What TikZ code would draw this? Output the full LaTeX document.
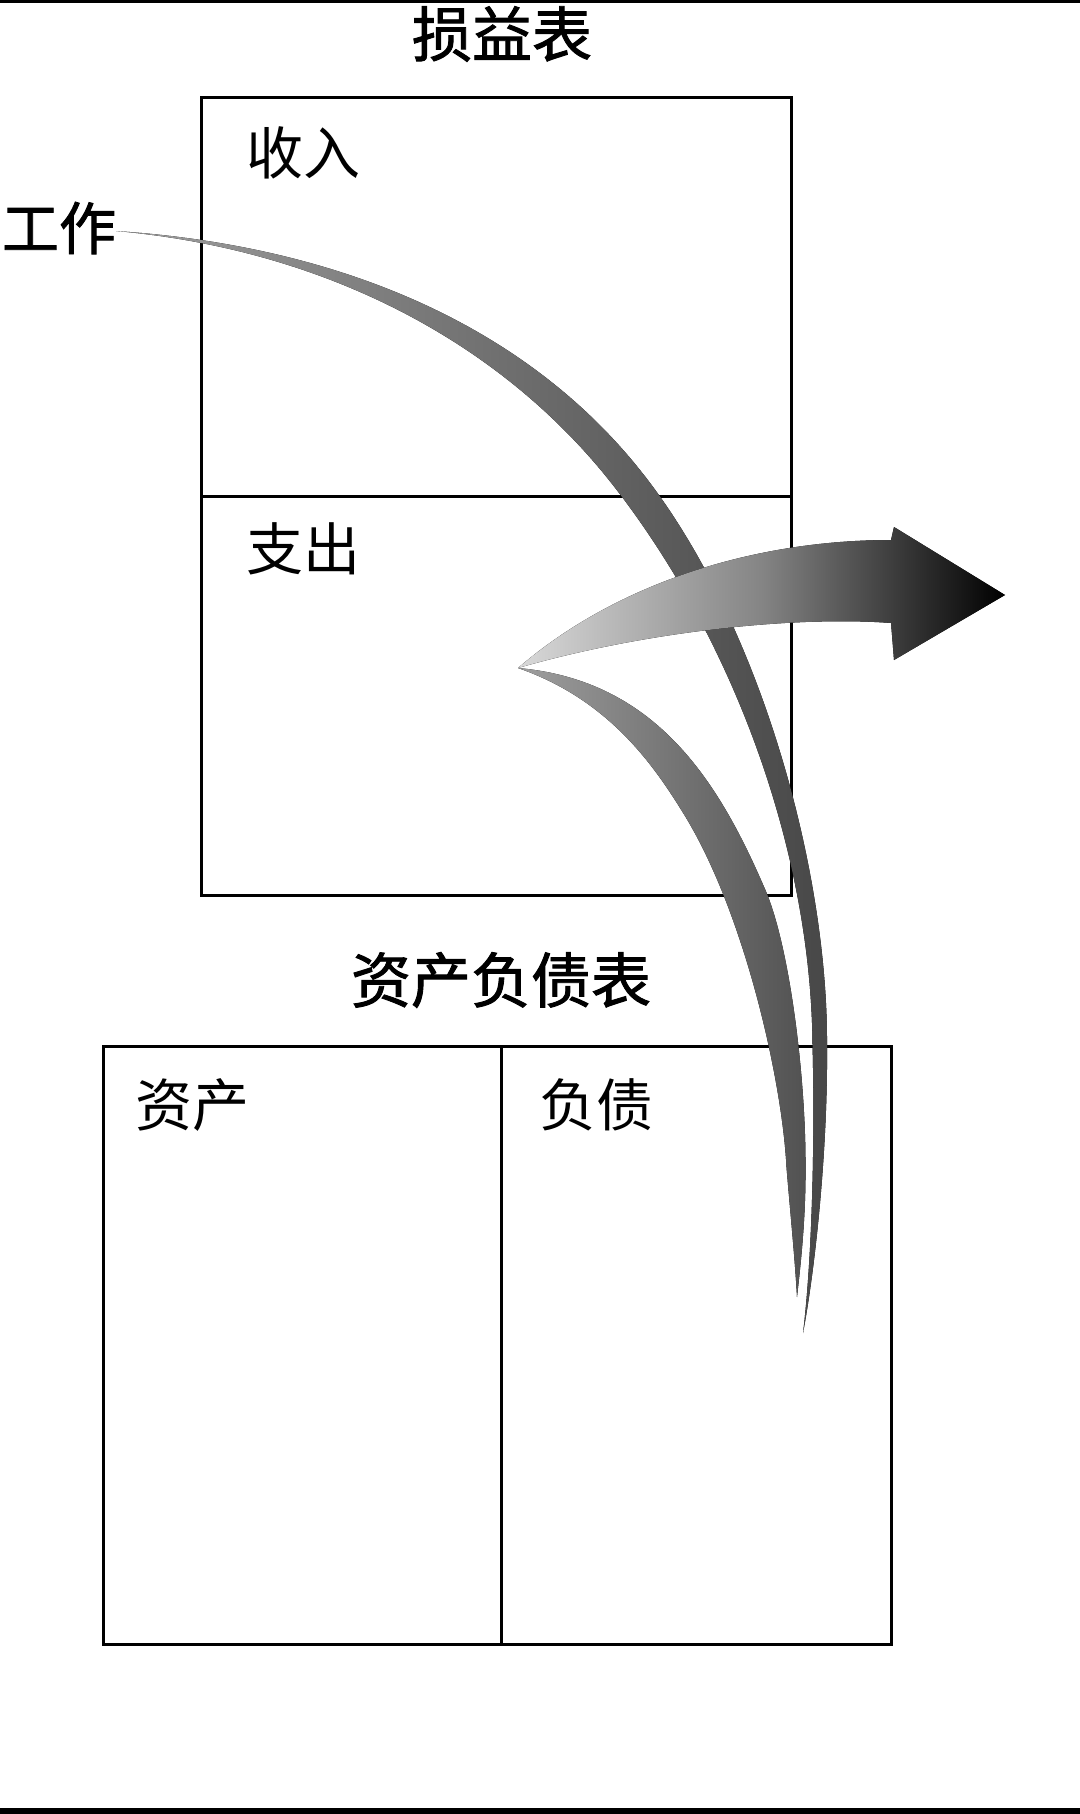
\documentclass[tikz,border=0pt]{standalone}
\usepackage{fontspec}
\usepackage{tikz}
\newfontfamily\cjk{Noto Sans CJK SC}
\newfontfamily\cjkbf[FakeBold=1.5]{Noto Sans CJK SC}
\usetikzlibrary{positioning}

\begin{document}
\begin{tikzpicture}[x=0.5pt,y=-0.5pt,
  title/.style={font=\cjkbf\fontsize{30}{30}\selectfont, inner sep=0},
  lbl/.style={font=\cjk\fontsize{28.5}{28.5}\selectfont, inner sep=0},
  box/.style={draw, line width=1.5pt, inner sep=0, outer sep=0, anchor=north west}]
\useasboundingbox (0,0) rectangle (1080,1814);

% Rules
\draw[line width=1.5pt] (0,1.5) -- (1080,1.5);
\draw[line width=3pt] (0,1811) -- (1080,1811);

% Income statement
\node (istitle) [title] at (502,34) {损益表};
\node (incomebox) [box, minimum width=295pt, minimum height=199pt] at (201,98) {};
\node (expensebox) [box, minimum width=295pt, minimum height=199.5pt] at (incomebox.south west) {};
\node (income) [lbl] at (303,153) {收入};
\node (expense) [lbl] at (303,549) {支出};

% Balance sheet
\node (bstitle) [title] at (501,980) {资产负债表};
\node (assetbox) [box, minimum width=199.25pt, minimum height=299pt] at (103,1046) {};
\node (liabbox) [box, minimum width=195pt, minimum height=299pt] at (assetbox.north east) {};
\node (assets) [lbl] at (192,1105) {资产};
\node (liabs) [lbl] at (596,1105) {负债};

% Work
\node (work) [lbl, font=\cjkbf\fontsize{28.5}{28.5}\selectfont] at (59,228) {工作};

% Arrow ends
\coordinate (worktip) at (116,231);
\coordinate (aend) at (803,1333);
\coordinate (splittail) at (518,668);
\coordinate (cend) at (797,1297);
\coordinate (btip) at (1005,595);

% Arrow from work down to the balance sheet
\fill[left color=black!38, right color=black!72]
  (worktip) .. controls (330,245) and (520,320) .. (640,470)
  .. controls (760,620) and (828,870) .. (827,1045)
  .. controls (828,1150) and (815,1270) .. (aend)
  .. controls (812,1260) and (815,1140) .. (812.5,1045)
  .. controls (811,860) and (740,650) .. (616,489)
  .. controls (506,346) and (330,250) .. (worktip) -- cycle;

% Arrow from expenses down
\fill[left color=black!38, right color=black!68]
  (splittail) .. controls (655,680) and (718,780) .. (764.5,888)
  .. controls (790,945) and (806,1080) .. (805.5,1166.6)
  .. controls (806,1220) and (800,1270) .. (cend)
  .. controls (795,1260) and (790,1210) .. (786.5,1167.4)
  .. controls (782,1080) and (745,915) .. (685.3,816.5)
  .. controls (655,767) and (610,700) .. (splittail) -- cycle;

% Arrow out to the right
\fill[left color=black!15, right color=black, middle color=black!48]
  (splittail) .. controls (620,580) and (760,540) .. (891,540) -- (894,527) -- (btip)
  -- (894,660) -- (891,623) .. controls (800,616) and (650,630) .. (splittail) -- cycle;

\end{tikzpicture}
\end{document}
